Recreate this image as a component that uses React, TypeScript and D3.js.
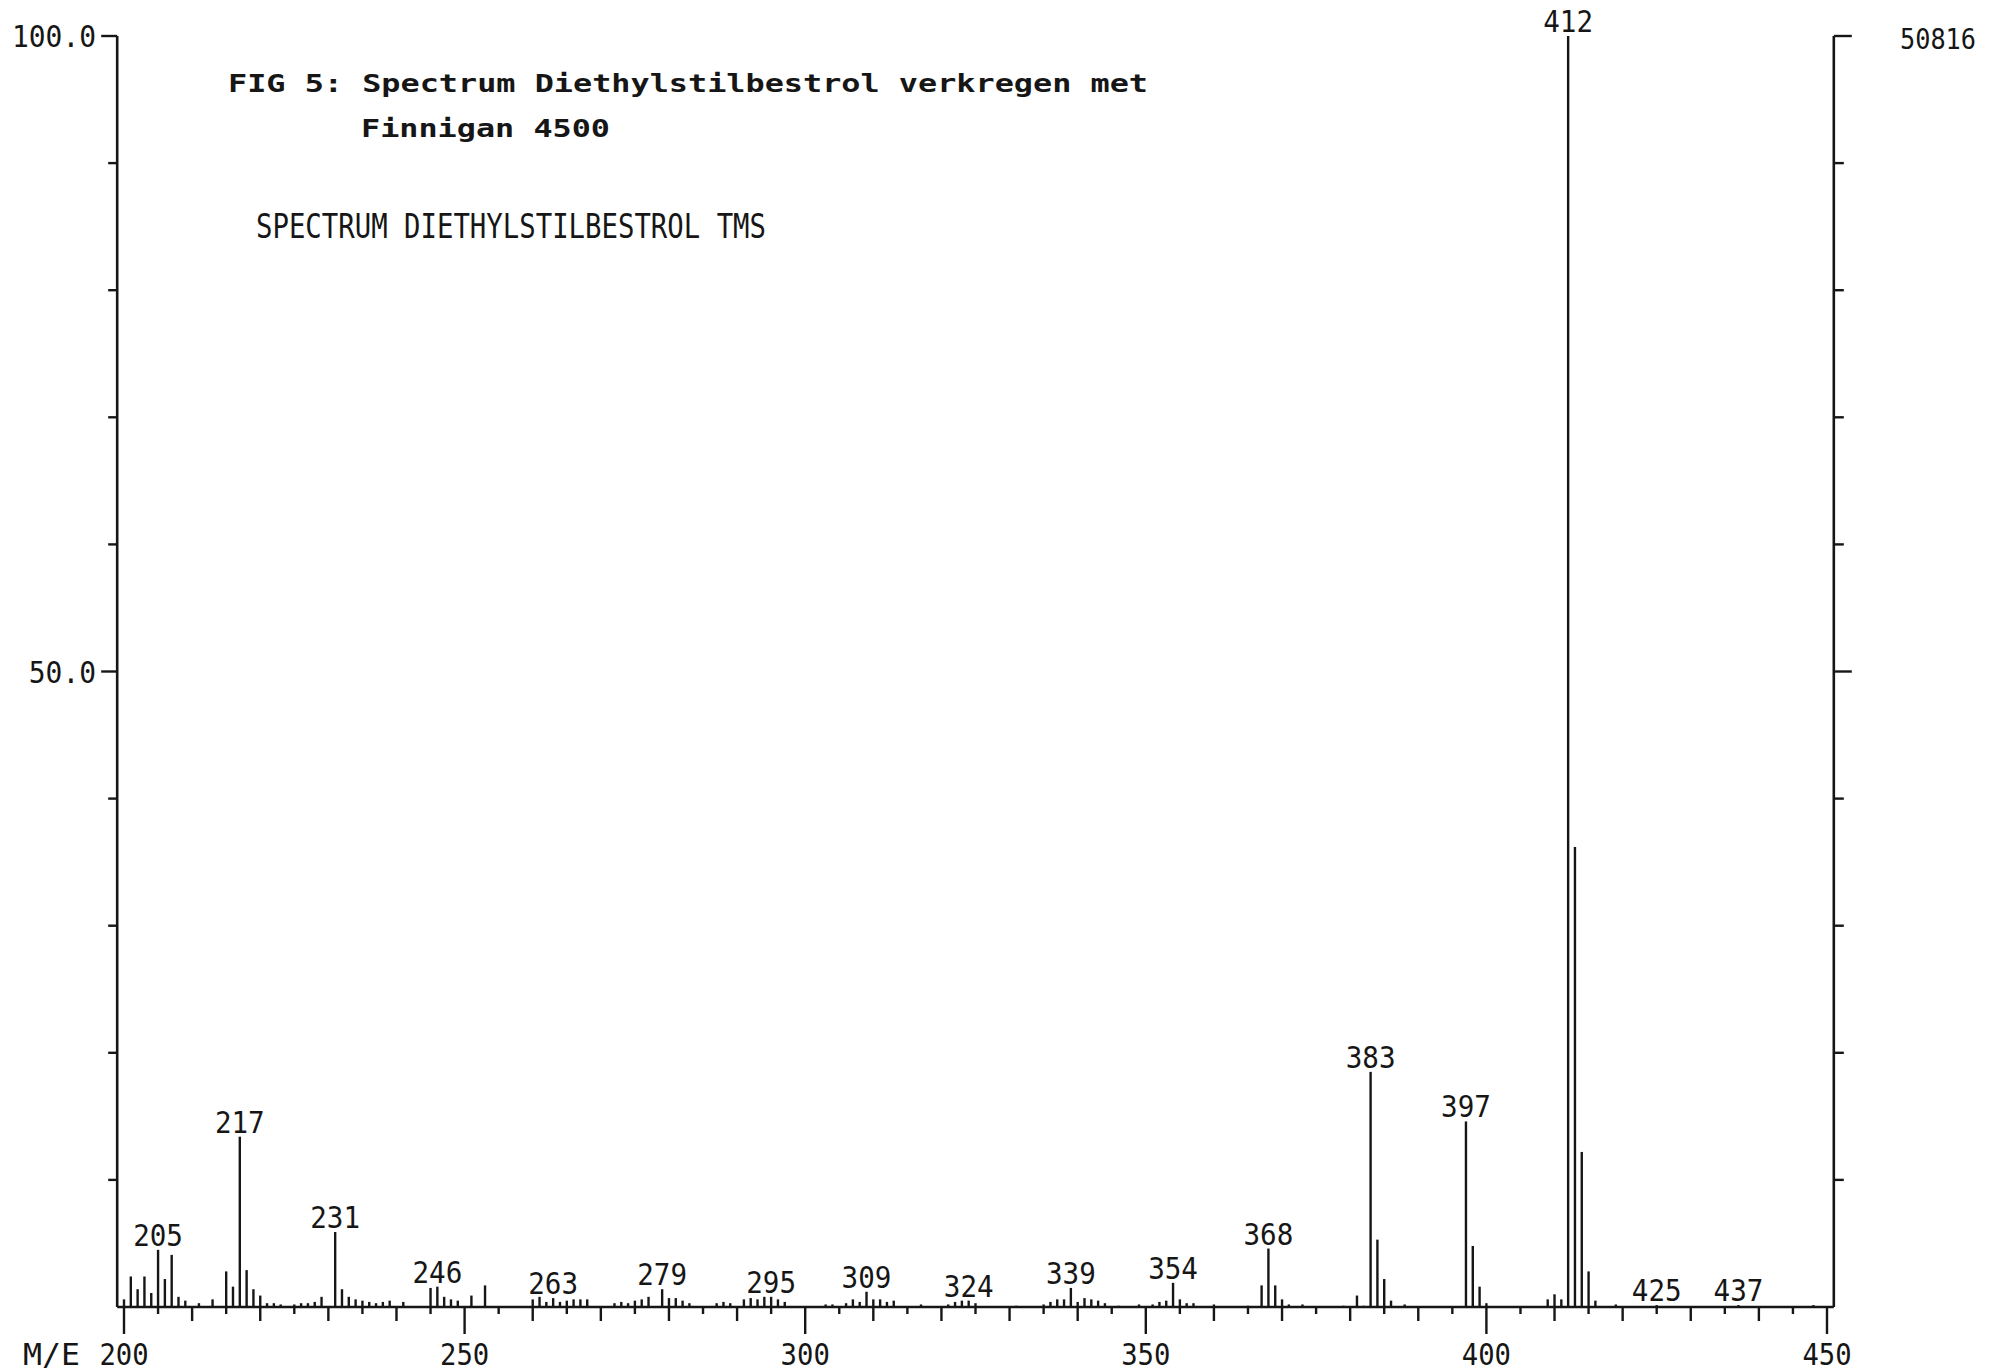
import React from "react";
import * as d3 from "d3";

// m/z values and relative intensities (% of base peak 412)
const masses: number[] = [
  200, 201, 202, 203, 204, 205, 206, 207, 208, 209, 211, 213, 215, 216, 217, 218, 219, 220,
  221, 222, 223, 225, 226, 227, 228, 229, 231, 232, 233, 234, 235, 236, 237, 238, 239, 241,
  245, 246, 247, 248, 249, 251, 253, 260, 261, 262, 263, 264, 265, 266, 267, 268,
  272, 273, 274, 275, 276, 277, 279, 280, 281, 282, 283, 287, 288, 289, 291, 292, 293, 294,
  295, 296, 297, 303, 304, 306, 307, 308, 309, 310, 311, 312, 313, 317, 321, 322, 323, 324,
  325, 331, 335, 336, 337, 338, 339, 340, 341, 342, 343, 344, 346, 349, 351, 352, 353, 354,
  355, 356, 357, 360, 365, 367, 368, 369, 370, 371, 373, 379, 381, 382, 383, 384, 385, 386,
  388, 397, 398, 399, 400, 409, 410, 411, 412, 413, 414, 415, 416, 419, 425, 437, 448,
];
const intensities: number[] = [
  0.6, 2.4, 1.4, 2.4, 1.1, 4.5, 2.2, 4.1, 0.8, 0.5, 0.3, 0.6, 2.8, 1.6, 13.4, 2.9, 1.4, 0.9,
  0.3, 0.3, 0.2, 0.2, 0.3, 0.3, 0.4, 0.8, 5.9, 1.4, 0.8, 0.6, 0.5, 0.4, 0.3, 0.4, 0.5, 0.4,
  1.5, 1.6, 0.8, 0.6, 0.5, 0.9, 1.7, 0.6, 0.8, 0.4, 0.7, 0.4, 0.5, 0.6, 0.6, 0.6,
  0.3, 0.4, 0.3, 0.5, 0.6, 0.8, 1.4, 0.7, 0.7, 0.5, 0.3, 0.3, 0.4, 0.3, 0.6, 0.7, 0.6, 0.8,
  0.8, 0.6, 0.4, 0.2, 0.2, 0.3, 0.6, 0.4, 1.2, 0.6, 0.6, 0.4, 0.5, 0.2, 0.2, 0.4, 0.5, 0.5,
  0.3, 0.1, 0.2, 0.4, 0.6, 0.6, 1.5, 0.4, 0.7, 0.6, 0.5, 0.3, 0.1, 0.2, 0.2, 0.4, 0.5, 1.9,
  0.6, 0.3, 0.3, 0.2, 0.1, 1.7, 4.6, 1.7, 0.6, 0.2, 0.2, 0.1, 0.9, 0.1, 18.5, 5.3, 2.2, 0.5,
  0.2, 14.6, 4.8, 1.6, 0.3, 0.6, 1.0, 0.6, 100, 36.2, 12.2, 2.8, 0.5, 0.2, 0.15, 0.15, 0.15,
];
const labeledMasses: number[] = [205, 217, 231, 246, 263, 279, 295, 309, 324, 339, 354, 368, 383, 397, 412, 425, 437];
const xTickLabels: number[] = [200, 250, 300, 350, 400, 450];
const yTickLabels: string[] = ["100.0", "50.0"];
const yTickLabelValues: number[] = [100, 50];
const baseCount = "50816";
const titleLine1 = "FIG 5: Spectrum Diethylstilbestrol verkregen met";
const titleLine2 = "Finnigan 4500";
const subtitle = "SPECTRUM DIETHYLSTILBESTROL TMS";

const W = 1989;
const H = 1371;
const INK = "#161616";
const MONO = "'DejaVu Sans Mono', 'Liberation Mono', monospace";

export default function App() {
  const x = d3.scaleLinear().domain([200, 450]).range([124, 1827]);
  const y = d3.scaleLinear().domain([0, 100]).range([1307, 36]);
  const left = x(199);
  const right = x(451);
  const y0 = y(0);
  const yTop = y(100);

  const xTicks = d3.range(200, 451, 5);
  const yTicks = d3.range(0, 101, 10).filter((v) => v > 0);
  const peaks = masses.map((m, i) => ({ m, v: intensities[i] }));
  const lookup = new Map(peaks.map((p) => [p.m, p.v]));

  const charW = 16.6;

  return (
    <svg
      width={W}
      height={H}
      viewBox={`0 0 ${W} ${H}`}
      style={{ position: "absolute", left: 0, top: 0, display: "block", background: "#fff" }}
    >
      <rect x={0} y={0} width={W} height={H} fill="#fff" />

      {/* Titles */}
      <text
        x={228}
        y={92}
        fontFamily={MONO}
        fontWeight="bold"
        fontSize={25}
        textLength={920}
        lengthAdjust="spacingAndGlyphs"
        fill={INK}
      >
        {titleLine1}
      </text>
      <text
        x={361}
        y={137}
        fontFamily={MONO}
        fontWeight="bold"
        fontSize={25}
        textLength={249}
        lengthAdjust="spacingAndGlyphs"
        fill={INK}
      >
        {titleLine2}
      </text>
      <text
        x={256}
        y={238}
        fontFamily={MONO}
        fontSize={34}
        textLength={510}
        lengthAdjust="spacingAndGlyphs"
        fill={INK}
      >
        {subtitle}
      </text>

      {/* Frame: left axis, right axis, baseline */}
      <line x1={left} x2={left} y1={yTop} y2={y0} stroke={INK} strokeWidth={2.6} />
      <line x1={right} x2={right} y1={yTop} y2={y0} stroke={INK} strokeWidth={2.6} />
      <line x1={left} x2={right} y1={y0} y2={y0} stroke={INK} strokeWidth={2.6} />

      {/* Left ticks */}
      {yTicks.map((v) => {
        const major = v === 100 || v === 50;
        return (
          <line
            key={"lt" + v}
            x1={left - (major ? 16 : 9)}
            x2={left}
            y1={y(v)}
            y2={y(v)}
            stroke={INK}
            strokeWidth={2.4}
          />
        );
      })}
      {/* Right ticks */}
      {yTicks.map((v) => {
        const major = v === 100 || v === 50;
        return (
          <line
            key={"rt" + v}
            x1={right}
            x2={right + (major ? 18 : 10)}
            y1={y(v)}
            y2={y(v)}
            stroke={INK}
            strokeWidth={2.4}
          />
        );
      })}
      {yTickLabels.map((t, i) => (
        <text
          key={"yl" + t}
          x={96}
          y={y(yTickLabelValues[i]) + 11}
          textAnchor="end"
          fontFamily={MONO}
          fontSize={31}
          textLength={t.length * 16.8}
          lengthAdjust="spacingAndGlyphs"
          fill={INK}
        >
          {t}
        </text>
      ))}
      <text
        x={1900}
        y={49}
        fontFamily={MONO}
        fontSize={28}
        textLength={76}
        lengthAdjust="spacingAndGlyphs"
        fill={INK}
      >
        {baseCount}
      </text>

      {/* X ticks */}
      {xTicks.map((m) => {
        const len = m % 50 === 0 ? 27 : m % 10 === 0 ? 14 : 7;
        return (
          <line key={"xt" + m} x1={x(m)} x2={x(m)} y1={y0} y2={y0 + len} stroke={INK} strokeWidth={2.4} />
        );
      })}
      {xTickLabels.map((m) => (
        <text
          key={"xl" + m}
          x={x(m)}
          y={1365}
          textAnchor="middle"
          fontFamily={MONO}
          fontSize={31}
          textLength={String(m).length * 16.4}
          lengthAdjust="spacingAndGlyphs"
          fill={INK}
        >
          {m}
        </text>
      ))}
      <text
        x={23}
        y={1365}
        fontFamily={MONO}
        fontSize={31}
        textLength={57}
        lengthAdjust="spacingAndGlyphs"
        fill={INK}
      >
        M/E
      </text>

      {/* Peaks */}
      {peaks.map((p) => (
        <line
          key={"p" + p.m}
          x1={x(p.m)}
          x2={x(p.m)}
          y1={y0}
          y2={y(p.v)}
          stroke={INK}
          strokeWidth={2.4}
        />
      ))}

      {/* Peak labels */}
      {labeledMasses.map((m) => {
        const v = lookup.get(m) ?? 0;
        const t = String(m);
        return (
          <text
            key={"pl" + m}
            x={x(m)}
            y={y(v) - 4}
            textAnchor="middle"
            fontFamily={MONO}
            fontSize={30}
            textLength={t.length * charW}
            lengthAdjust="spacingAndGlyphs"
            fill={INK}
          >
            {t}
          </text>
        );
      })}
    </svg>
  );
}
